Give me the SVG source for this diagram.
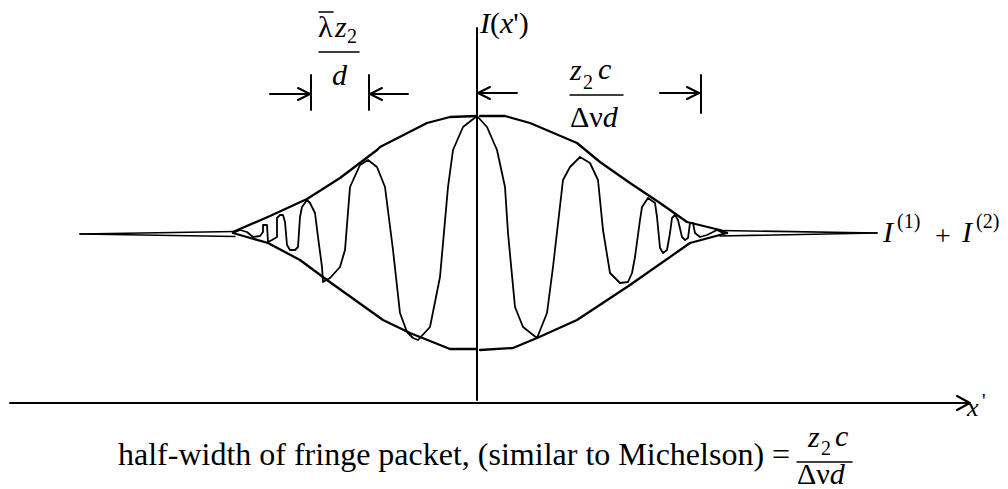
<svg xmlns="http://www.w3.org/2000/svg" width="1008" height="489" viewBox="0 0 1008 489">
<style>
.ln{fill:none;stroke:#000;stroke-linejoin:round;stroke-linecap:round}
.env{stroke-width:2.3}
.fr{stroke-width:1.8}
.ax{stroke-width:2}
text{font-family:"Liberation Serif","DejaVu Serif",serif;fill:#000}
.i{font-style:italic}
</style>
<rect width="1008" height="489" fill="#fff"/>
<g id="axes">
<line class="ln ax" x1="477" y1="28" x2="477" y2="400"/>
<line class="ln ax" x1="10" y1="403" x2="969" y2="403"/>
<polyline class="ln ax" points="957,396 970,403 957,410"/>
</g>
<g id="tails">
<line class="ln" stroke-width="1.6" x1="80" y1="234" x2="235" y2="231.5"/>
<line class="ln" stroke-width="1.6" x1="80" y1="234" x2="235" y2="236.5"/>
<line class="ln" stroke-width="1.6" x1="720" y1="230.5" x2="877" y2="233"/>
<line class="ln" stroke-width="1.6" x1="720" y1="236" x2="877" y2="233"/>
</g>
<g id="envelope">
<polyline class="ln env" points="233,232 270,216 307,199 340,178 377,150 380,147 427,123 450,117 477,116"/>
<polyline class="ln env" points="480,116 505,116 530,123 577,143 600,162 630,183 660,203 687,222 720,230 727,233"/>
<polyline class="ln env" points="233,233 268,243 300,260 327,280 383,320 410,333 450,349 477,349"/>
<polyline class="ln env" points="480,350 513,348 537,338 577,320 630,285 690,243 727,233"/>
</g>
<g id="fringes">
<polyline class="ln fr" points="233,233 240,230 247,232 253,237 260,236 263,232 263,225 267,225 268,242 272,240 277,237 277,218 280,215 283,215 285,222 287,245 290,250 295,250 298,247 300,217 302,207 307,200 310,203 315,213 318,237 322,267 323,282 330,278 340,267 345,250 350,187 360,165 368,160 377,167 385,187 393,250 400,313 407,332 413,338 418,340 430,327 440,277 448,187 453,150 463,127 477,116 487,127 497,150 505,187 508,233 515,307 523,327 537,338 547,313 553,267 563,180 570,167 580,157 590,163 598,180 603,230 610,273 620,283 628,282 632,273 635,257 640,220 642,207 648,198 655,203 657,217 660,248 663,253 667,250 670,233 672,218 675,215 678,220 682,237 685,240 688,238 690,223 693,223 695,233 700,237 707,235 717,230 723,233"/>
</g>
<g id="dim-left">
<line class="ln ax" x1="311" y1="75" x2="311" y2="110"/>
<line class="ln ax" x1="369" y1="75" x2="369" y2="110"/>
<line class="ln ax" x1="270" y1="94" x2="310" y2="94"/>
<polyline class="ln ax" points="298,88 310,94 298,100"/>
<line class="ln ax" x1="370" y1="94" x2="408" y2="94"/>
<polyline class="ln ax" points="382,88 370,94 382,100"/>
<text x="318" y="37" font-size="30">λ</text>
<line class="ln" stroke-width="1.6" stroke-linecap="butt" x1="319" y1="12" x2="333" y2="12"/>
<text class="i" x="335" y="37" font-size="30">z</text>
<text x="347" y="43" font-size="20">2</text>
<line class="ln" stroke-width="1.5" x1="319" y1="52" x2="359" y2="52"/>
<text class="i" x="332" y="85" font-size="30">d</text>
</g>
<g id="dim-right">
<line class="ln ax" x1="478" y1="93" x2="517" y2="93"/>
<polyline class="ln ax" points="490,87 478,93 490,99"/>
<line class="ln ax" x1="660" y1="93" x2="699" y2="93"/>
<polyline class="ln ax" points="687,87 699,93 687,99"/>
<line class="ln ax" x1="701" y1="75" x2="701" y2="113"/>
<text class="i" x="570" y="80" font-size="30">z</text>
<text x="583" y="89" font-size="20">2</text>
<text class="i" x="598" y="79" font-size="30">c</text>
<line class="ln" stroke-width="1.5" x1="570" y1="95" x2="623" y2="95"/>
<text x="570" y="127" font-size="30">Δν<tspan class="i">d</tspan></text>
</g>
<g id="label-I">
<text x="480" y="33" font-size="30"><tspan class="i">I</tspan>(<tspan class="i">x</tspan>')</text>
</g>
<g id="label-sum">
<text class="i" x="883" y="242" font-size="30">I</text>
<text x="897" y="228" font-size="20">(1)</text>
<text x="935" y="245" font-size="28">+</text>
<text class="i" x="962" y="242" font-size="30">I</text>
<text x="976" y="228" font-size="20">(2)</text>
</g>
<g id="label-x">
<text class="i" x="967" y="416" font-size="26">x</text>
<text x="982" y="408" font-size="20">'</text>
</g>
<g id="caption">
<text x="118" y="465" font-size="32">half-width of fringe packet, (similar to Michelson) =</text>
<text class="i" x="808" y="447" font-size="30">z</text>
<text x="821" y="455" font-size="20">2</text>
<text class="i" x="835" y="446" font-size="30">c</text>
<line class="ln" stroke-width="1.5" x1="797" y1="462" x2="852" y2="462"/>
<text x="797" y="484" font-size="30">Δν<tspan class="i">d</tspan></text>
</g>
</svg>
